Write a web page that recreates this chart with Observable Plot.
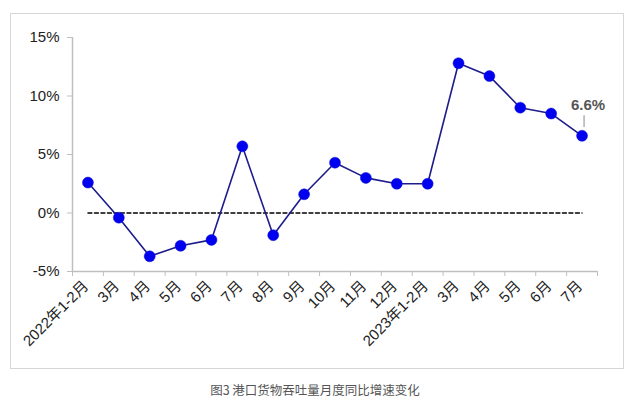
<!DOCTYPE html>
<html>
<head>
<meta charset="utf-8">
<script src="https://cdn.jsdelivr.net/npm/d3@7"></script>
<script src="https://cdn.jsdelivr.net/npm/@observablehq/plot@0.6"></script>
<style>
  html, body { margin: 0; padding: 0; background: #fff; }
  #wrap { position: relative; width: 640px; height: 409px; overflow: hidden;
          font-family: "Liberation Sans", Arial, "Noto Sans CJK SC", sans-serif; }
  #frame { position: absolute; left: 10px; top: 13px; width: 612px; height: 354px;
           border: 1.5px solid #d6d6d6; box-sizing: content-box; }
  #chart { position: absolute; left: 0; top: 0; }
  #caption { position: absolute; left: 0; width: 630px; top: 380px; text-align: center;
             font-size: 12.5px; color: #555; font-family: "Noto Sans CJK SC", sans-serif; }
</style>
</head>
<body>
<div id="wrap">
  <div id="frame"></div>
  <div id="chart"></div>
  <div id="caption">图3 港口货物吞吐量月度同比增速变化</div>
</div>
<script>
const labels = ["2022年1-2月","3月","4月","5月","6月","7月","8月","9月","10月","11月","12月",
                "2023年1-2月","3月","4月","5月","6月","7月"];
const values = [2.6, -0.4, -3.7, -2.8, -2.3, 5.7, -1.9, 1.6, 4.3, 3.0, 2.5,
                2.5, 12.8, 11.7, 9.0, 8.5, 6.6];
const yTicks = [-5, 0, 5, 10, 15];
const annotation = "6.6%";

const idx = d3.range(labels.length);
const data = idx.map(i => ({i, v: values[i]}));
const last = data[data.length - 1];
const zeroLine = [{i: 0, v: 0}, {i: labels.length - 1, v: 0}];

const W = 640, H = 370, mL = 72, mR = 43, mT = 37, mB = 99;
const bw = (W - mL - mR) / labels.length;
const font = '"Liberation Sans", Arial, "Noto Sans CJK SC", sans-serif';

const chart = Plot.plot({
  width: W, height: H,
  marginLeft: mL, marginRight: mR, marginTop: mT, marginBottom: mB,
  style: {background: "transparent", fontFamily: font, fontSize: "15px", color: "#222", overflow: "visible"},
  x: {type: "band", domain: idx, padding: 0, round: false},
  y: {domain: [-5, 15]},
  marks: [
    Plot.axisY({ticks: yTicks, tickFormat: d => d + "%", tickSize: 5, tickPadding: 8,
                stroke: "#bfbfbf", fill: "#222", fontSize: 15, label: null}),
    Plot.ruleX([0], {x: d => d, y1: -5, y2: 15, dx: -bw / 2, stroke: "#bfbfbf", strokeWidth: 1.5}),
    Plot.ruleY([-5], {stroke: "#bfbfbf", strokeWidth: 1.5}),
    Plot.axisX({ticks: idx, text: null, tickSize: 5, dx: -bw / 2, stroke: "#bfbfbf", label: null}),
    Plot.axisX({ticks: [labels.length - 1], text: null, tickSize: 5, dx: bw / 2, stroke: "#bfbfbf", label: null}),
    Plot.axisX({ticks: idx, tickFormat: i => labels[i], tickSize: 0, tickPadding: 12, tickRotate: -45,
                dx: -2, fill: "#222", fontSize: 15, label: null}),
    Plot.line(zeroLine, {x: "i", y: "v", stroke: "#000", strokeWidth: 1.3, strokeDasharray: "4,2.5"}),
    Plot.line(data, {x: "i", y: "v", stroke: "#1c1c8c", strokeWidth: 1.6}),
    Plot.dot(data, {x: "i", y: "v", r: 5.5, fill: "#0000f0", stroke: "#1010d0", strokeWidth: 0.5}),
    Plot.link([last], {x1: "i", x2: "i", y1: d => d.v + 0.75, y2: d => d.v + 1.75, dx: 2,
                       stroke: "#888", strokeWidth: 1}),
    Plot.text([last], {x: "i", y: "v", text: () => annotation, dx: 6, dy: -31,
                       fill: "#555", fontWeight: "bold", fontSize: 15})
  ]
});
document.getElementById("chart").appendChild(chart);
</script>
</body>
</html>
